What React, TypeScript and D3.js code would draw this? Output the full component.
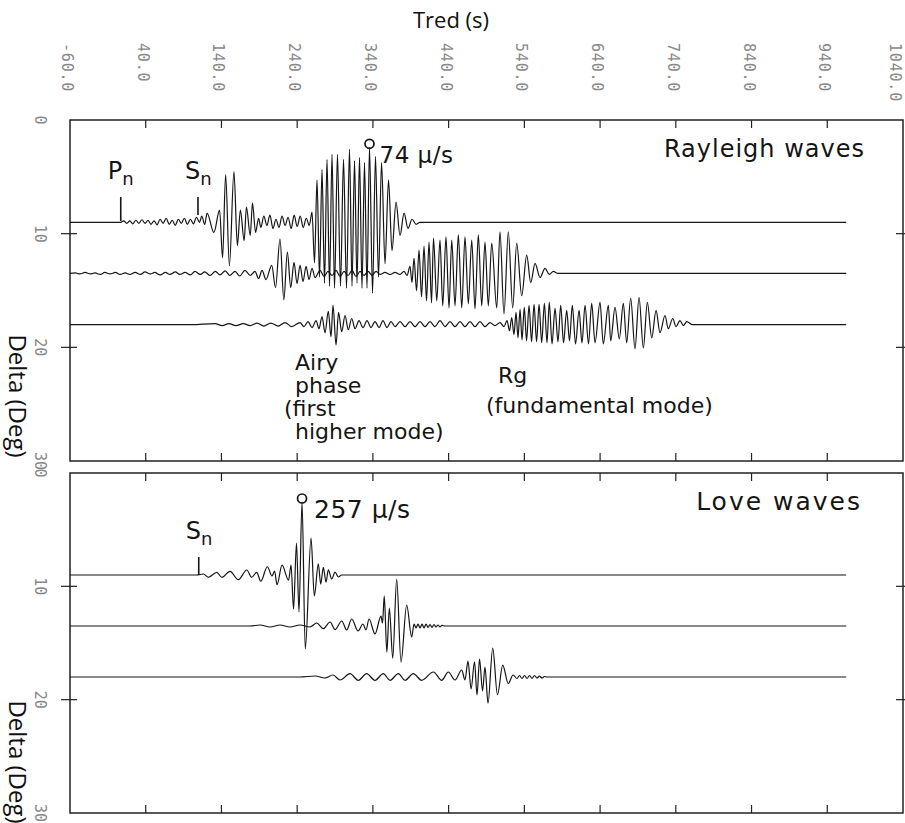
import React from "react";
import * as d3 from "d3";

type Pt = [number, number];

// ---------- axes ----------
const tredTicks = [-60, 40, 140, 240, 340, 440, 540, 640, 740, 840, 940, 1040];
const tredTickLabels = ["-60.0", "40.0", "140.0", "240.0", "340.0", "440.0", "540.0", "640.0", "740.0", "840.0", "940.0", "1040.0"];
const deltaTicks = [0, 10, 20, 30];
const deltaTickLabels = ["0", "10", "20", "30"];

// epicentral distances (deg) of the three synthetic traces in each panel
const traceDeltas = [9, 13.5, 18];

// peak amplitudes (micro m/s) used for the annotation
const rayleighPeak = 74;
const lovePeak = 257;

// phase picks (Tred, s)
const rayleighPhases = [{ name: "P", t: 7 }, { name: "S", t: 109 }];
const lovePhases = [{ name: "S", t: 110 }];

// ---------- Rayleigh traces: [Tred (s), amplitude (micro m/s)] ----------
const rayleigh9: Pt[] = [
  [-60, 0], [7, 0],
  [11, 1.5], [15, -1], [19, 1.5], [23, -1.5], [27, 2], [31, -1], [35, 2.5], [39, -1], [43, 2], [47, -2], [51, 1.5], [55, -2.5],
  [59, 3], [63, -1], [67, 4], [71, -2], [75, 2], [79, -3], [83, 3], [87, -1], [91, 4], [95, -2], [99, 3], [103, -1.5], [107, 5],
  [111, 0], [114, 6], [118, -2], [121, 9], [130, -10], [137.5, 12], [141.5, -35], [145.5, 47], [150.5, -43], [156.5, 50],
  [161, -23], [165, 12], [170, -18], [173, 15], [178, -13], [181, 19], [185, -10],
  [189, 4], [192, -5], [196, 6], [200, -3], [204, 7], [208, -6], [212, 3], [216, -5], [220, 6], [224, -3], [228, 5], [232, -6],
  [236, 7], [240, -4], [244, 6], [248, -5], [252, 4], [256, -3],
  [259.6, 10], [262.9, -40], [266.2, 42], [269.5, -54], [272.8, 52], [276.1, -60], [279.4, 62], [282.7, -63], [286, 67],
  [289.3, -65], [293.2, 67], [297.2, -63], [301.2, 62], [305.1, -65], [309.1, 72], [312.4, -63], [315.7, 61], [319, -60],
  [322.3, 64], [325.6, -65], [328.9, 59], [332.2, -65], [335.5, 74], [339.5, -70], [343.4, 65], [347.4, -54], [351.4, 59],
  [356, -41], [360.6, 42], [365.2, -28], [370.5, 20], [375.8, -13], [381.1, 9], [386.4, -6], [391.7, 3], [397, -2], [402.2, 0],
  [965, 0],
];

const rayleigh13: Pt[] = [
  [-60, 0], [-53, 0.5], [-47, -0.5], [-40, 1], [-33, -0.5], [-27, 0.5], [-20, -1], [-14, 1], [-7, -0.5], [0, 1], [6, -1],
  [13, 0.5], [19, -1], [26, 1], [33, -1], [39, 1.5], [46, -0.5], [52, 1], [59, -1.5], [66, 1], [72, -1], [79, 1.5], [85, -1],
  [92, 1], [99, -1.5], [105, 2], [112, -1], [118, 1.5], [125, -2], [132, 2], [138, -1.5], [145, 2.5], [151, -2], [158, 2],
  [164, -2.5], [171, 3], [178, -2], [184.3, 2], [189, -5], [193.6, 3], [198.8, -6], [206.4, 8], [211.4, -14], [217.3, 34],
  [222.4, -26], [227, 21], [231.5, -14], [235.8, 11], [239.8, -10], [243.8, 8], [247.7, -8], [251.7, 7], [255.6, -6],
  [259.6, 5], [263.6, -4], [270.2, 3], [275.5, -3], [280.7, 2], [286, -2], [291.3, 3], [296.6, -3], [301.9, 2], [307.1, -2],
  [312.4, 3], [317.7, -3], [323, 2], [328.3, -2], [333.6, 2], [338.9, -2], [344.1, 2], [349.4, -1], [356, 1], [362.6, -1],
  [369.2, 1], [375.8, -1], [381.1, 2], [385.1, -2],
  [389, 7], [391.6, -9], [394.3, 15], [397.6, -17], [400.9, 23], [404.2, -23], [407.5, 27], [410.8, -27], [414.1, 31],
  [417.4, -29], [420, 35], [424.3, -27], [428.6, 33], [432.2, -32], [436.5, 36], [440.5, -34], [444.1, 33], [448.4, -32],
  [452.8, 38], [457.3, -34], [461.6, 36], [466, -30], [470.5, 33], [474.8, -35], [479.2, 38], [483.7, -32], [488, 31],
  [492.4, -32], [496.9, 30], [503.5, -34], [507.8, 41], [513.1, -40], [518.8, 41], [524.6, -34], [529.9, 30], [536.5, -22],
  [543.1, 18], [548.4, -9], [554.1, 10], [560.7, -4], [567.3, 5], [573, -1], [578.3, 2], [584.4, 0],
  [965, 0],
];

const rayleigh18: Pt[] = [
  [-60, 0], [100, 0], [131.5, 1], [141, -1], [150, 1], [159, -1], [169, 1], [178, -1], [187, 1.5], [196, -1.5], [205, 1.5],
  [215, -1.5], [224, 2], [233, -2], [243.8, 2], [249, -2], [254.3, 3], [259.6, -3], [264.9, 4], [268.8, -4], [272.8, 8],
  [276.8, -8], [281.1, 13], [284.7, -12], [287.3, 19], [291.3, -20], [294.6, 12], [298.8, -7], [303.2, 9], [307.5, -5],
  [312, 6], [316.4, -4], [321.7, 4], [326.9, -3], [332.2, 4], [337.5, -3], [342.8, 3], [348.1, -3], [353.3, 4], [358.6, -3],
  [363.9, 3], [369.2, -2], [375.8, 3], [382.4, -2], [389, 3], [395.6, -2], [402.2, 3], [408.8, -2], [415.4, 3], [422, -2],
  [428.6, 4], [435.2, -2], [441.8, 3], [448.4, -2], [455, 3], [461.6, -2], [468.2, 3], [474.8, -2], [481.4, 3], [488, -2],
  [494.6, 2], [501.2, -1], [507.8, 2], [513.1, -2],
  [517.1, 4], [520.4, -6], [523.3, 7], [526.3, -10], [529, 12], [531.6, -13], [534.3, 15], [536.9, -15], [539.9, 17],
  [542.9, -16], [546.2, 19], [549.5, -17], [552.8, 20], [556.1, -17], [559.4, 20], [562.9, -18], [566.4, 21], [569.9, -18],
  [572.9, 22], [576.5, -19], [580.5, 16], [584.4, -17], [588, 19], [591.7, -18], [595.9, 14], [599.6, -16], [603.3, 19],
  [607.6, -19], [612.2, 14], [616.1, -18], [620.1, 19], [624.7, -19], [628.9, 21], [633.3, -18], [639.9, 22], [644.2, -19],
  [650.9, 19], [654, -16], [659.7, 17], [665.4, -14], [670.7, 21], [675.1, -18], [680.4, 26], [686.1, -24], [691.4, 27],
  [697.1, -23], [702.4, 22], [708.2, -13], [713.9, 14], [719.1, -8], [725.7, 9], [730.1, -4], [735.9, 6], [740.3, -2],
  [745.5, 4], [749.9, -1], [754.4, 3], [761.4, 0],
  [965, 0],
];

// ---------- Love traces ----------
const love9: Pt[] = [
  [-60, 0], [107.3, 0], [116.1, 3.5], [122.7, -8], [133.8, 9.5], [140.4, -8], [151.3, 13], [162.3, -16.5], [173.4, 17.6],
  [180, -8], [186.6, 9.5], [191.9, -22], [200.6, 29], [206.8, -3.5], [210.1, 14], [213.4, -34], [220, 35], [228.6, -18],
  [231.9, 35], [235.2, -120], [239.1, 112], [242.4, -130], [246.4, 257], [250.7, -260], [258.3, 130], [262.6, -74],
  [267.9, 39], [271.1, -32], [274.5, 27], [278.1, -25], [281.1, 18], [285.6, -14], [290, 10], [294.3, -7], [298.8, 0],
  [965, 0],
];

const love13: Pt[] = [
  [-60, 0], [177.7, 0], [190.9, 3.5], [204.1, -3.5], [217.3, 3.5], [230.5, -3.5], [243.8, 3.5], [257, -3.5], [265.8, 10.5],
  [274.5, -9.5], [283.4, 14], [290, -13], [298.8, 17.6], [305.4, -14], [312, 24.6], [320.4, -17.6], [326.9, 7], [330.9, -14],
  [334.9, 24.6], [342.8, -28], [350.7, 35], [352.7, 10.5], [355, 106], [358.4, -92], [361.7, 63], [366.2, -113], [371.4, 165],
  [377.1, -127], [384.6, 74], [391.2, -39], [394.3, 7], [396.9, -7], [399.6, 7], [402.2, -7], [404.9, 7], [407.5, -7],
  [410.1, 7], [412.8, -5], [415.4, 5], [418, -5], [420.7, 5], [423.3, -3.5], [426, 3.5], [428.6, -3.5], [431.3, 2], [435.2, 0],
  [965, 0],
];

const love18: Pt[] = [
  [-60, 0], [243.8, 0], [263.6, 3.5], [276.8, -3.5], [287.3, 7], [296.6, -10.5], [309.8, 11.6], [320.7, -11.6], [331.8, 11.6],
  [342.8, -11.6], [353.7, 11.6], [362.6, -11.6], [373.6, 11.6], [382.4, -11.6], [393.4, 11.6], [404.4, -11.6], [419.8, 17.6],
  [430.9, -11.6], [439.6, 17.6], [448.4, -10.5], [457.3, 24.6], [461.6, -10.5], [465.6, 56], [469.6, -42], [474.2, 53],
  [477.5, -63], [480.8, 63], [484.8, -49], [488, 35], [492, -92], [498.2, 102], [504.5, -63], [511.4, 42], [518.8, -23],
  [525, 7], [530.3, -5.3], [533.6, 5.3], [536.9, -5.3], [540.2, 5.3], [543.5, -5.3], [546.8, 5.3], [550.1, -5.3], [553.4, 5.3],
  [556.7, -3.5], [560, 3.5], [563.3, -3.5], [566.6, 1.8], [569.9, 0],
  [965, 0],
];

const rayleighTraces = [rayleigh9, rayleigh13, rayleigh18];
const loveTraces = [love9, love13, love18];

// ---------- layout ----------
const W = 905;
const H = 823;
const X0 = 70;
const X1 = 903;
const ANNO_FONT = "'DejaVu Sans', sans-serif";
const AXIS_FONT = "'Open Sans', 'DejaVu Sans', sans-serif";
const TICK_FONT = "'DejaVu Sans Mono', monospace";
const INK = "#151515";

const x = d3.scaleLinear().domain([tredTicks[0], tredTicks[tredTicks.length - 1]]).range([X0, X1]);

type PanelProps = {
  top: number;
  bottom: number;
  traces: Pt[][];
  peak: number;
  peakPx: number;
  phases: { name: string; t: number }[];
  phaseY: number;
  markerLabel: string;
  markerTextDx: number;
  markerFont: number;
};

function Panel(p: PanelProps) {
  const y = d3.scaleLinear().domain([0, 30]).range([p.top, p.bottom]);
  const amp = d3.scaleLinear().domain([0, p.peak]).range([0, p.peakPx]);
  const lines = p.traces.map((tr, i) => {
    const base = y(traceDeltas[i]);
    return d3
      .line<Pt>()
      .x((d) => x(d[0]))
      .y((d) => base - amp(d[1]))
      .curve(d3.curveMonotoneX)(tr) as string;
  });
  // marker at the largest peak of the first trace
  const first = p.traces[0];
  const pk = first.reduce((a, b) => (b[1] > a[1] ? b : a), first[0]);
  const mx = x(pk[0]);
  const my = y(traceDeltas[0]) - amp(pk[1]);
  const r = 4.5;
  return (
    <g>
      <rect x={X0} y={p.top} width={X1 - X0} height={p.bottom - p.top} fill="none" stroke="#222" strokeWidth={1.5} />
      {tredTicks.slice(1, -1).map((t) => (
        <g key={t}>
          <line x1={x(t)} x2={x(t)} y1={p.top} y2={p.top + 8} stroke="#222" strokeWidth={1.2} />
          <line x1={x(t)} x2={x(t)} y1={p.bottom} y2={p.bottom - 8} stroke="#222" strokeWidth={1.2} />
        </g>
      ))}
      {deltaTicks.slice(1, -1).map((d) => (
        <g key={d}>
          <line x1={X0 - 9} x2={X0 + 7} y1={y(d)} y2={y(d)} stroke="#222" strokeWidth={1.2} />
          <line x1={X1 - 7} x2={X1 + 2} y1={y(d)} y2={y(d)} stroke="#222" strokeWidth={1.2} />
        </g>
      ))}
      {deltaTicks.map((d, i) => (
        <text
          key={"l" + d}
          transform={`translate(40,${y(d)}) rotate(90)`}
          textAnchor="middle"
          dominantBaseline="central"
          fontFamily={TICK_FONT}
          fontSize={15}
          fill="#888"
        >
          {deltaTickLabels[i]}
        </text>
      ))}
      {lines.map((d, i) => (
        <path key={i} d={d} fill="none" stroke={INK} strokeWidth={1.2} strokeLinejoin="round" />
      ))}
      {p.phases.map((ph) => (
        <g key={ph.name}>
          <line x1={x(ph.t)} x2={x(ph.t)} y1={p.phaseY + 9} y2={p.phaseY + (ph.name === "P" ? 33 : 27)} stroke={INK} strokeWidth={1.6} />
          <text x={x(ph.t) - 13} y={p.phaseY - 9} fontFamily={ANNO_FONT} fontSize={24} fill={INK}>
            {ph.name}
            <tspan fontSize={18} dy={6}>n</tspan>
          </text>
        </g>
      ))}
      <circle cx={mx} cy={my - r + 1} r={r} fill="none" stroke={INK} strokeWidth={1.7} />
      <text x={mx + p.markerTextDx} y={my + 16} fontFamily={ANNO_FONT} fontSize={p.markerFont} fill={INK} letterSpacing={0.5}>
        {p.markerLabel}
      </text>
    </g>
  );
}

export default function App() {
  const yTop = d3.scaleLinear().domain([0, 30]).range([120, 461]);
  const yBot = d3.scaleLinear().domain([0, 30]).range([473, 813]);
  return (
    <svg
      width={W}
      height={H}
      viewBox={`0 0 ${W} ${H}`}
      style={{ position: "absolute", left: 0, top: 0, display: "block", background: "#fff" }}
    >
      <rect x={0} y={0} width={W} height={H} fill="#fff" />
      <text x={451} y={28} textAnchor="middle" fontFamily={AXIS_FONT} fontSize={22} fill="#111">
        Tred (s)
      </text>
      {tredTicks.map((t, i) => (
        <text
          key={t}
          transform={`translate(${Math.min(x(t) - 3, W - 10)},43) rotate(90)`}
          textAnchor="start"
          dominantBaseline="central"
          fontFamily={TICK_FONT}
          fontSize={15}
          letterSpacing={0.8}
          fill="#888"
        >
          {tredTickLabels[i]}
        </text>
      ))}
      <Panel
        top={yTop(0)}
        bottom={yTop(30)}
        traces={rayleighTraces}
        peak={rayleighPeak}
        peakPx={75}
        phases={rayleighPhases}
        phaseY={yTop(0) + 68}
        markerLabel="74 μ/s"
        markerTextDx={10}
        markerFont={23}
      />
      <Panel
        top={yBot(0)}
        bottom={yBot(30)}
        traces={loveTraces}
        peak={lovePeak}
        peakPx={73}
        phases={lovePhases}
        phaseY={yBot(0) + 75}
        markerLabel="257 μ/s"
        markerTextDx={12}
        markerFont={25}
      />
      <text x={865} y={157} textAnchor="end" fontFamily={ANNO_FONT} fontSize={24} letterSpacing={1} fill={INK}>
        Rayleigh waves
      </text>
      <text x={862} y={510} textAnchor="end" fontFamily={ANNO_FONT} fontSize={25} letterSpacing={2} fill={INK}>
        Love waves
      </text>
      <g fontFamily={ANNO_FONT} fontSize={22} fill={INK}>
        <text x={295} y={370}>Airy</text>
        <text x={295} y={393}>phase</text>
        <text x={284} y={416}>(first</text>
        <text x={295} y={439}>higher mode)</text>
        <text x={498} y={383}>Rg</text>
        <text x={486} y={413}>(fundamental mode)</text>
      </g>
      <text
        transform={`translate(9,${396}) rotate(90)`}
        textAnchor="middle"
        fontFamily={AXIS_FONT}
        fontSize={24}
        fill="#111"
      >
        Delta (Deg)
      </text>
      <text
        transform={`translate(9,${762}) rotate(90)`}
        textAnchor="middle"
        fontFamily={AXIS_FONT}
        fontSize={24}
        fill="#111"
      >
        Delta (Deg)
      </text>
    </svg>
  );
}
